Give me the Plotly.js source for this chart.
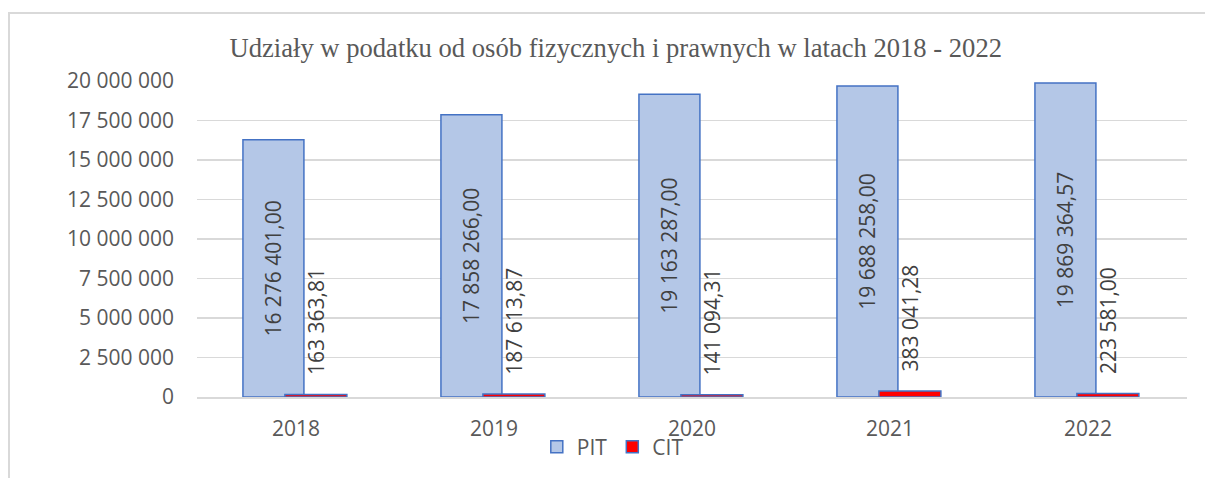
<!DOCTYPE html>
<html><head><meta charset="utf-8">
<script src="https://cdn.plot.ly/plotly-3.0.1.min.js"></script>
<style>
body{margin:0;background:#fff;}
#chart{position:absolute;left:0;top:0;width:1205px;height:478px;}
#frame{position:absolute;left:8px;top:12px;width:1205px;height:478px;border-top:2px solid #d9d9d9;border-left:2px solid #d9d9d9;pointer-events:none;}
</style></head>
<body>
<div id="chart"></div>
<div id="frame"></div>
<script>
const years = ['2018','2019','2020','2021','2022'];
const pit = [16276401.00, 17858266.00, 19163287.00, 19688258.00, 19869364.57];
const cit = [163363.81, 187613.87, 141094.31, 383041.28, 223581.00];
const yTicks = [0, 2500000, 5000000, 7500000, 10000000, 12500000, 15000000, 17500000, 20000000];

const fontFam = '"Open Sans", "Noto Sans", sans-serif';
const traces = [
  {type:'bar', name:'PIT', x:years, y:pit, width:0.308, offset:-0.268,
   marker:{color:'#B4C7E7', line:{color:'#4472C4', width:1.5}},
   texttemplate:'%{y:,.2f}', textposition:'inside', insidetextanchor:'middle', textangle:-90,
   constraintext:'none', textfont:{family:fontFam, size:21, color:'#404040'}, hoverinfo:'skip'},
  {type:'bar', name:'CIT', x:years, y:cit, width:0.313, offset:-0.056,
   marker:{color:'#FF0000', line:{color:'#4472C4', width:1.5}},
   texttemplate:'\u00a0\u00a0\u00a0%{y:,.2f}', textposition:'outside', textangle:-90, cliponaxis:false,
   constraintext:'none', textfont:{family:fontFam, size:21, color:'#404040'}, hoverinfo:'skip'}
];
const layout = {
  width:1205, height:478,
  margin:{l:197, r:18, t:81, b:80},
  barmode:'overlay',
  separators:', ',
  paper_bgcolor:'#fff', plot_bgcolor:'#fff',
  showlegend:true,
  title:{text:'Udziały w podatku od osób fizycznych i prawnych w latach 2018 - 2022',
    font:{family:'"Liberation Serif", "Times New Roman", serif', size:26.6, color:'#595959'},
    xref:'container', x:0.511, xanchor:'center', yref:'container', y:0.9, yanchor:'middle'},
  xaxis:{type:'category', showgrid:false, showline:true, linecolor:'#d9d9d9', linewidth:1.5,
    tickfont:{family:fontFam, size:21, color:'#595959'}, ticklabelstandoff:12, fixedrange:true},
  yaxis:{range:[0,20000000], tickvals:yTicks, tickformat:',d', showgrid:true, gridcolor:'#d9d9d9', gridwidth:1.5,
    zeroline:false, showline:false, tickfont:{family:fontFam, size:21, color:'#595959'},
    ticklabelstandoff:22, fixedrange:true},
  legend:{orientation:'h', x:0.42, xanchor:'center', y:-0.155, yanchor:'middle',
    font:{family:fontFam, size:21, color:'#595959'}, bgcolor:'rgba(0,0,0,0)', itemwidth:30}
};
Plotly.newPlot('chart', traces, layout, {displayModeBar:false, staticPlot:true});
</script>
</body></html>
